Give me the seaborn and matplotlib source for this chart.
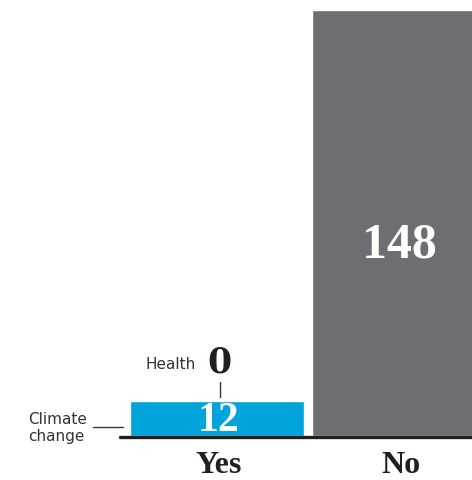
import matplotlib
matplotlib.use("Agg")
import matplotlib.pyplot as plt
import seaborn as sns
import pandas as pd

categories = ["Yes", "No"]
values = [12, 148]
bar_colors = ["#00A3DA", "#6D6E71"]
health_value = 0

sns.set_style("white")
plt.rcParams['font.family'] = ['DejaVu Sans']

df = pd.DataFrame({"answer": categories, "count": values})

fig = plt.figure(figsize=(4.72, 4.81), dpi=100)
ax = fig.add_axes([120/472, 44/481, 352/472, 437/481])

sns.barplot(data=df, x="answer", y="count", hue="answer", palette=bar_colors,
            width=174/182, legend=False, ax=ax, saturation=1)

ax.set_xlim(-0.533, 1.401)
ax.set_ylim(0, 437/2.878)
for s in ax.spines.values():
    s.set_visible(False)
ax.set_xticks([]); ax.set_yticks([])
ax.set_xlabel(""); ax.set_ylabel("")

ax.axhline(-0.4, color="#231F20", lw=2.4, zorder=5, clip_on=False)

serif = ['Liberation Serif', 'DejaVu Serif']
# category labels
for i, c in enumerate(categories):
    ax.text(i + 0.01, -9.9, c, ha="center", va="center", fontsize=23,
            fontweight="bold", family=serif, color="#231F20", clip_on=False)

# values in bars
ax.text(0.01, 5.4, str(values[0]), ha="center", va="center", fontsize=30,
        fontweight="bold", family=serif, color="white")
ax.text(1.0, 66.7, str(values[1]), ha="center", va="center", fontsize=36,
        fontweight="bold", family=serif, color="white")

# Health annotation
ax.text(0.016, 26, str(health_value), ha="center", va="center", fontsize=25,
        fontweight="bold", family=['DejaVu Serif'], color="#231F20")
ax.text(-0.115, 25.2, "Health", ha="right", va="center", fontsize=11,
        color="#333333")
ax.plot([0.016, 0.016], [13.6, 18.8], color="#333333", lw=1)

# Climate change annotation
ax.text(-0.714, 3.1, "Climate\nchange", ha="right", va="center", fontsize=11,
        color="#333333", linespacing=1.1, multialignment="left", clip_on=False)
ax.plot([-0.681, -0.516], [3.1, 3.1], color="#333333", lw=1, clip_on=False)

fig.savefig("out.png", dpi=100)
